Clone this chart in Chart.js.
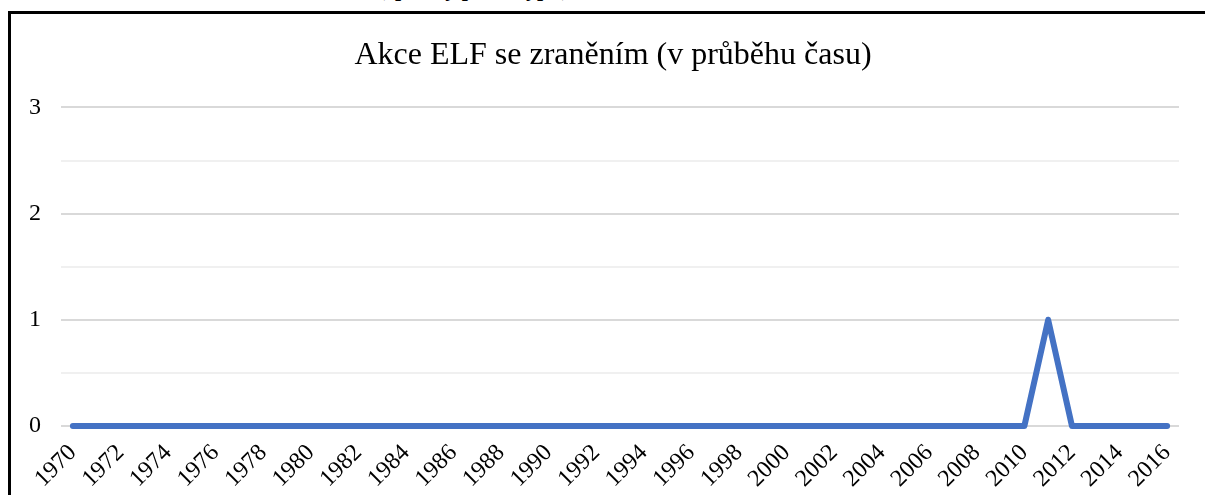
<!DOCTYPE html>
<html>
<head>
<meta charset="utf-8">
<script src="https://cdn.jsdelivr.net/npm/chart.js@4/dist/chart.umd.min.js"></script>
<style>
html,body{margin:0;padding:0;background:#fff;width:1205px;height:495px;overflow:hidden;}
#frame{position:absolute;left:8px;top:11px;width:1210px;height:500px;border:3px solid #000;box-sizing:border-box;}
#cut{position:absolute;left:378px;top:-24px;font:bold 22px "Liberation Serif",serif;color:#000;white-space:nowrap;}
#wrap{position:absolute;left:0;top:0;width:1205px;height:495px;}
</style>
</head>
<body>
<div id="cut">(episody podle typu)</div>
<div id="frame"></div>
<div id="wrap"><canvas id="c" width="1205" height="495"></canvas></div>
<script>
const chartTitle = "Akce ELF se zraněním (v průběhu času)";
const years = ["1970","1971","1972","1973","1974","1975","1976","1977","1978","1979",
  "1980","1981","1982","1983","1984","1985","1986","1987","1988","1989",
  "1990","1991","1992","1993","1994","1995","1996","1997","1998","1999",
  "2000","2001","2002","2003","2004","2005","2006","2007","2008","2009",
  "2010","2011","2012","2013","2014","2015","2016"];
const injuries = [0,0,0,0,0,0,0,0,0,0,
  0,0,0,0,0,0,0,0,0,0,
  0,0,0,0,0,0,0,0,0,0,
  0,0,0,0,0,0,0,0,0,0,
  0,1,0,0,0,0,0];
const yTicks = [0,1,2,3];

new Chart(document.getElementById('c'), {
  type: 'line',
  data: {
    labels: years,
    datasets: [{
      data: injuries,
      borderColor: '#4472C4',
      borderWidth: 6,
      pointRadius: 0,
      borderCapStyle: 'round',
      borderJoinStyle: 'round',
      tension: 0,
      fill: false,
      clip: false
    }]
  },
  options: {
    responsive: false,
    animation: false,
    devicePixelRatio: 1,
    layout: { padding: { left: 21, right: 0, top: 0, bottom: 0 } },
    plugins: {
      legend: { display: false },
      tooltip: { enabled: false },
      title: {
        display: true,
        text: chartTitle,
        color: '#000',
        font: { family: '"Liberation Serif", serif', size: 32, weight: 'normal' },
        padding: { top: 36, bottom: 33 }
      }
    },
    scales: {
      x: {
        offset: true,
        grid: { display: false, drawTicks: false },
        border: { display: false },
        afterFit: s => { s.height = 69; },
        ticks: {
          autoSkip: false,
          maxRotation: 45,
          minRotation: 45,
          padding: 13,
          color: '#000',
          font: { family: '"Liberation Serif", serif', size: 24 },
          callback: function(v, i) { return i % 2 === 0 ? years[i] : ''; }
        }
      },
      y: {
        min: 0,
        max: 3,
        grid: {
          drawTicks: false,
          lineWidth: 2,
          color: ctx => (ctx.tick && Number.isInteger(ctx.tick.value)) ? '#d9d9d9' : '#f0f0f0'
        },
        border: { display: false },
        afterFit: s => { s.width = 40; },
        ticks: {
          stepSize: 0.5,
          padding: 20,
          color: '#000',
          font: { family: '"Liberation Serif", serif', size: 24 },
          callback: v => yTicks.includes(v) ? String(v) : ''
        }
      },
      spacer: {
        type: 'linear',
        position: 'right',
        display: true,
        grid: { display: false, drawTicks: false },
        border: { display: false },
        ticks: { display: false },
        afterFit: s => { s.width = 26; }
      }
    }
  }
});
</script>
</body>
</html>
